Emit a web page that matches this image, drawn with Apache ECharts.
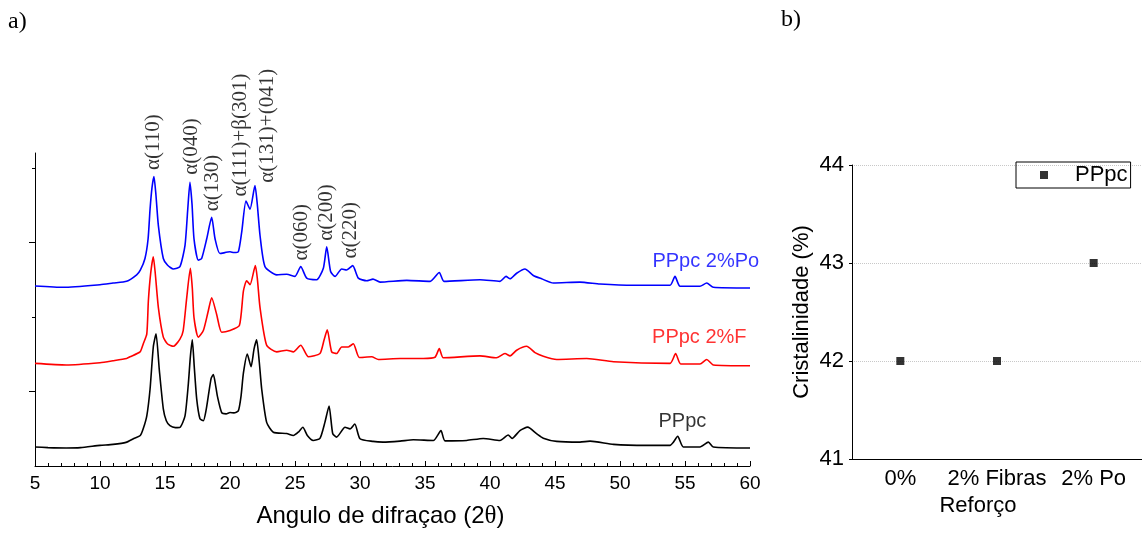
<!DOCTYPE html>
<html>
<head>
<meta charset="utf-8">
<script src="https://cdn.jsdelivr.net/npm/echarts@6/dist/echarts.min.js"></script>
<style>
  html, body { margin: 0; padding: 0; background: #fff; }
  #chart { width: 1142px; height: 534px; }
</style>
</head>
<body>
<div id="chart"></div>
<script>
// ---- a) XRD patterns: [2θ, intensity] ----
const xrdPPpc = [
  [5.0,255],[6.0,247],[7.4,242],[8.5,247],[10.0,277],[11.0,290],[12.0,317],[12.6,370],[13.1,409],[13.33,502],
  [13.6,673],[13.85,1030],[14.1,1597],[14.31,1773],[14.56,1294],[14.87,766],[15.1,607],[15.38,541],[15.8,515],[16.15,519],
  [16.54,673],[16.8,1113],[16.95,1465],[17.1,1694],[17.25,1333],[17.44,898],[17.69,634],[17.95,607],[18.15,739],[18.33,937],
  [18.55,1175],[18.72,1228],[18.88,1096],[19.03,937],[19.36,717],[19.7,700],[20.0,717],[20.3,713],[20.64,739],[20.85,937],
  [21.03,1245],[21.33,1501],[21.62,1333],[21.85,1571],[22.05,1694],[22.25,1399],[22.44,1030],[22.82,585],[23.33,453],[24.36,436],
  [24.87,409],[25.3,462],[25.6,519],[25.95,409],[26.4,343],[26.92,370],[27.3,585],[27.62,805],[27.9,436],[28.2,387],
  [28.85,519],[29.23,498],[29.6,564],[30.0,366],[31.0,330],[31.77,321],[33.08,334],[34.1,352],[35.64,343],[36.23,475],
  [36.54,337],[38.2,343],[39.48,370],[40.77,343],[41.4,416],[41.7,370],[42.3,475],[42.9,521],[43.6,432],[44.1,374],
  [45.13,330],[46.92,321],[47.7,334],[49.5,290],[52.05,277],[53.85,277],[54.1,317],[54.44,400],[54.87,255],[56.15,255],
  [56.8,321],[57.18,255],[60.0,242]
];
const xrdPPpc2F = [
  [5.0,257],[7.4,236],[10.0,266],[11.0,292],[12.05,323],[12.3,345],[13.08,411],[13.33,521],[13.6,653],[13.72,1094],
  [13.9,1467],[14.1,1688],[14.25,1467],[14.49,1005],[14.87,609],[15.2,517],[15.64,486],[16.15,583],[16.4,698],[16.67,1137],
  [16.95,1533],[17.1,1269],[17.23,873],[17.56,609],[17.95,698],[18.3,939],[18.59,1137],[18.97,917],[19.36,675],[20.0,698],
  [20.72,764],[21.03,1226],[21.28,1366],[21.54,1313],[21.95,1569],[22.1,1401],[22.31,1005],[22.82,500],[23.59,411],[24.36,434],
  [24.87,411],[25.44,500],[26.03,345],[26.92,389],[27.23,566],[27.48,706],[27.82,411],[28.2,389],[28.59,477],[29.1,477],
  [29.49,521],[29.95,336],[30.9,345],[31.41,310],[33.08,323],[34.87,323],[35.77,339],[36.1,455],[36.41,332],[39.23,358],
  [40.5,332],[41.15,389],[41.54,358],[42.05,434],[42.82,486],[43.46,402],[44.1,354],[45.13,310],[47.44,323],[49.5,279],
  [53.85,257],[54.28,389],[54.67,249],[56.15,249],[56.67,310],[57.18,236],[60.0,226]
];
const xrdPPpc2Po = [
  [5.0,256],[7.2,238],[10.0,273],[11.0,295],[12.05,318],[12.82,405],[13.1,467],[13.46,625],[13.7,889],[13.85,1285],
  [14.0,1576],[14.15,1725],[14.3,1483],[14.49,1065],[14.87,625],[15.2,533],[15.64,484],[16.15,516],[16.54,801],[16.75,1285],
  [16.92,1646],[17.08,1351],[17.23,889],[17.56,603],[17.82,625],[18.21,889],[18.59,1176],[18.85,889],[19.23,691],[20.0,714],
  [20.3,704],[20.64,714],[20.9,978],[21.23,1395],[21.54,1285],[21.92,1602],[22.1,1351],[22.31,933],[22.69,516],[23.59,405],
  [24.36,414],[25.0,384],[25.44,516],[25.9,361],[26.67,339],[27.18,493],[27.44,780],[27.74,450],[28.08,384],[28.59,484],
  [28.97,471],[29.44,529],[29.87,361],[30.51,326],[31.0,348],[31.54,308],[33.6,331],[35.4,318],[36.1,436],[36.46,318],
  [39.23,339],[40.77,318],[41.23,384],[41.54,352],[42.05,427],[42.69,484],[43.33,397],[43.97,352],[44.87,295],[46.92,308],
  [48.46,282],[51.03,265],[53.85,265],[54.23,384],[54.62,252],[56.15,252],[56.67,295],[57.18,238],[60.0,229]
];
// vertical stacking offsets (counts) for PPpc, PPpc 2%F, PPpc 2%Po
const stackOffsets = [0, 1120, 2160];
const patternNames = ['PPpc', 'PPpc 2%F', 'PPpc 2%Po'];
const patternColors = ['#000000', '#ff0000', '#0000ff'];

// reflection labels: text, 2θ, intensity at the foot of the label
const peakTags = ['α(110)', 'α(040)', 'α(130)', 'α(111)+β(301)', 'α(131)+(041)', 'α(060)', 'α(200)', 'α(220)'];
const peakTagX = [14.1, 17.0, 18.67, 20.82, 22.85, 25.52, 27.44, 29.23];
const peakTagY = [3973, 3907, 3419, 3617, 3802, 2759, 3023, 2785];

// pattern name labels anchored in data space
const nameTagX = [54.8, 56.1, 56.6];
const nameTagY = [594, 1729, 2746];

// x-axis ticks of the diffractogram
const twoThetaMin = 5, twoThetaMax = 60, twoThetaStep = 5;

// ---- b) crystallinity ----
const reinforcement = ['0%', '2% Fibras', '2% Po'];
const crystallinity = [42, 42, 43];
const crystTicks = [41, 42, 43, 44];

const sans = '"Liberation Sans", Arial, sans-serif';
const serif = '"Liberation Serif", "Times New Roman", serif';

const chart = echarts.init(document.getElementById('chart'), null, { renderer: 'canvas' });

const patterns = [xrdPPpc, xrdPPpc2F, xrdPPpc2Po];
const lineSeries = patterns.map((pts, i) => ({
  type: 'line',
  name: patternNames[i],
  xAxisIndex: 0, yAxisIndex: 0,
  data: pts.map(([x, y]) => [x, y + stackOffsets[i]]),
  showSymbol: false,
  smooth: 0.2,
  lineStyle: { color: patternColors[i], width: 1.6 },
  itemStyle: { color: patternColors[i] },
  silent: true,
  z: 3
}));

const peakLabelSeries = {
  type: 'scatter',
  xAxisIndex: 0, yAxisIndex: 0,
  symbolSize: 0,
  silent: true,
  data: peakTags.map((t, i) => ({ name: t, value: [peakTagX[i], peakTagY[i]] })),
  label: {
    show: true,
    position: 'inside',
    formatter: p => p.name,
    rotate: 90,
    align: 'left',
    verticalAlign: 'middle',
    fontFamily: serif,
    fontSize: 21,
    color: '#000'
  },
  z: 5
};

const nameLabelSeries = {
  type: 'scatter',
  xAxisIndex: 0, yAxisIndex: 0,
  symbolSize: 0,
  silent: true,
  data: patternNames.map((t, i) => ({
    name: t, value: [nameTagX[i], nameTagY[i]],
    label: { color: patternColors[i] }
  })),
  label: {
    show: true,
    position: 'inside',
    formatter: p => p.name,
    align: 'center',
    verticalAlign: 'middle',
    fontFamily: sans,
    fontSize: 20
  },
  z: 5
};

const option = {
  backgroundColor: '#fff',
  animation: false,
  title: [
    { text: 'a)', left: 8, top: 10, padding: 0, textStyle: { fontFamily: serif, fontSize: 24, fontWeight: 'normal', color: '#000' } },
    { text: 'b)', left: 781, top: 8, padding: 0, textStyle: { fontFamily: serif, fontSize: 24, fontWeight: 'normal', color: '#000' } }
  ],
  legend: {
    data: [{ name: 'Cristalinidade', icon: 'rect' }],
    formatter: () => 'PPpc',
    left: 1016, top: 162,
    padding: [2, 3, 2, 24],
    itemWidth: 8, itemHeight: 8,
    borderColor: '#000', borderWidth: 1,
    textStyle: { fontFamily: sans, fontSize: 22, color: '#000', padding: [0, 0, 0, 22] },
    selectedMode: false
  },
  grid: [
    { left: 35, right: 392, top: 153, bottom: 63 },
    { left: 852, right: 0, top: 165, bottom: 75 }
  ],
  xAxis: [
    {
      gridIndex: 0, type: 'value',
      min: twoThetaMin, max: twoThetaMax, interval: twoThetaStep,
      axisLine: { lineStyle: { color: '#000', width: 1 } },
      axisTick: { inside: true, length: 5, lineStyle: { color: '#000' } },
      minorTick: { show: true, splitNumber: 5, length: 3, lineStyle: { color: '#000' } },
      axisLabel: { color: '#000', fontFamily: sans, fontSize: 19, margin: 8 },
      splitLine: { show: false },
      name: 'Angulo de difraçao (2{th|θ})',
      nameLocation: 'middle',
      nameGap: 38,
      nameTextStyle: {
        fontFamily: sans, fontSize: 24, color: '#000', padding: [0, 24, 0, 0],
        rich: { th: { fontFamily: serif, fontSize: 25, color: '#000' } }
      }
    },
    {
      gridIndex: 1, type: 'category',
      data: reinforcement,
      boundaryGap: true,
      axisLine: { lineStyle: { color: '#000', width: 1 } },
      axisTick: { alignWithLabel: true, length: 5, lineStyle: { color: '#000' } },
      axisLabel: { interval: 0, color: '#000', fontFamily: sans, fontSize: 22, margin: 9 },
      splitLine: { show: false },
      name: 'Reforço',
      nameLocation: 'middle',
      nameGap: 36,
      nameTextStyle: { fontFamily: sans, fontSize: 22, color: '#000', padding: [0, 38, 0, 0] }
    }
  ],
  yAxis: [
    {
      gridIndex: 0, type: 'value', min: 0, max: 4200, position: 'left',
      axisLine: { show: true, lineStyle: { color: '#000', width: 1 } },
      axisTick: { show: true, customValues: [1000, 3000], length: 6, lineStyle: { color: '#000' } },
      axisLabel: { show: false },
      splitLine: { show: false }
    },
    {
      gridIndex: 0, type: 'value', min: 0, max: 4200, position: 'left', offset: 0,
      axisLine: { show: false },
      axisTick: { show: true, customValues: [2000, 4000], length: 3, lineStyle: { color: '#000' } },
      axisLabel: { show: false },
      splitLine: { show: false }
    },
    {
      gridIndex: 1, type: 'value', min: 41, max: 44, interval: 0.5,
      axisLine: { show: true, lineStyle: { color: '#000', width: 1 } },
      axisTick: { show: true, customValues: crystTicks, length: 3, lineStyle: { color: '#000' } },
      axisLabel: { customValues: crystTicks, color: '#000', fontFamily: sans, fontSize: 22, margin: 8 },
      splitLine: { show: true, lineStyle: { color: '#c8c8c8', type: 'dotted', width: 1 } },
      name: 'Cristalinidade (%)',
      nameLocation: 'middle',
      nameRotate: 90,
      nameGap: 39,
      nameTextStyle: { fontFamily: sans, fontSize: 22, color: '#000' }
    }
  ],
  series: [
    ...lineSeries,
    peakLabelSeries,
    nameLabelSeries,
    {
      type: 'scatter',
      name: 'Cristalinidade',
      xAxisIndex: 1, yAxisIndex: 2,
      data: crystallinity,
      symbol: 'rect',
      symbolSize: 8,
      itemStyle: { color: '#000' },
      silent: true,
      z: 4
    }
  ]
};

chart.setOption(option);
</script>
</body>
</html>
